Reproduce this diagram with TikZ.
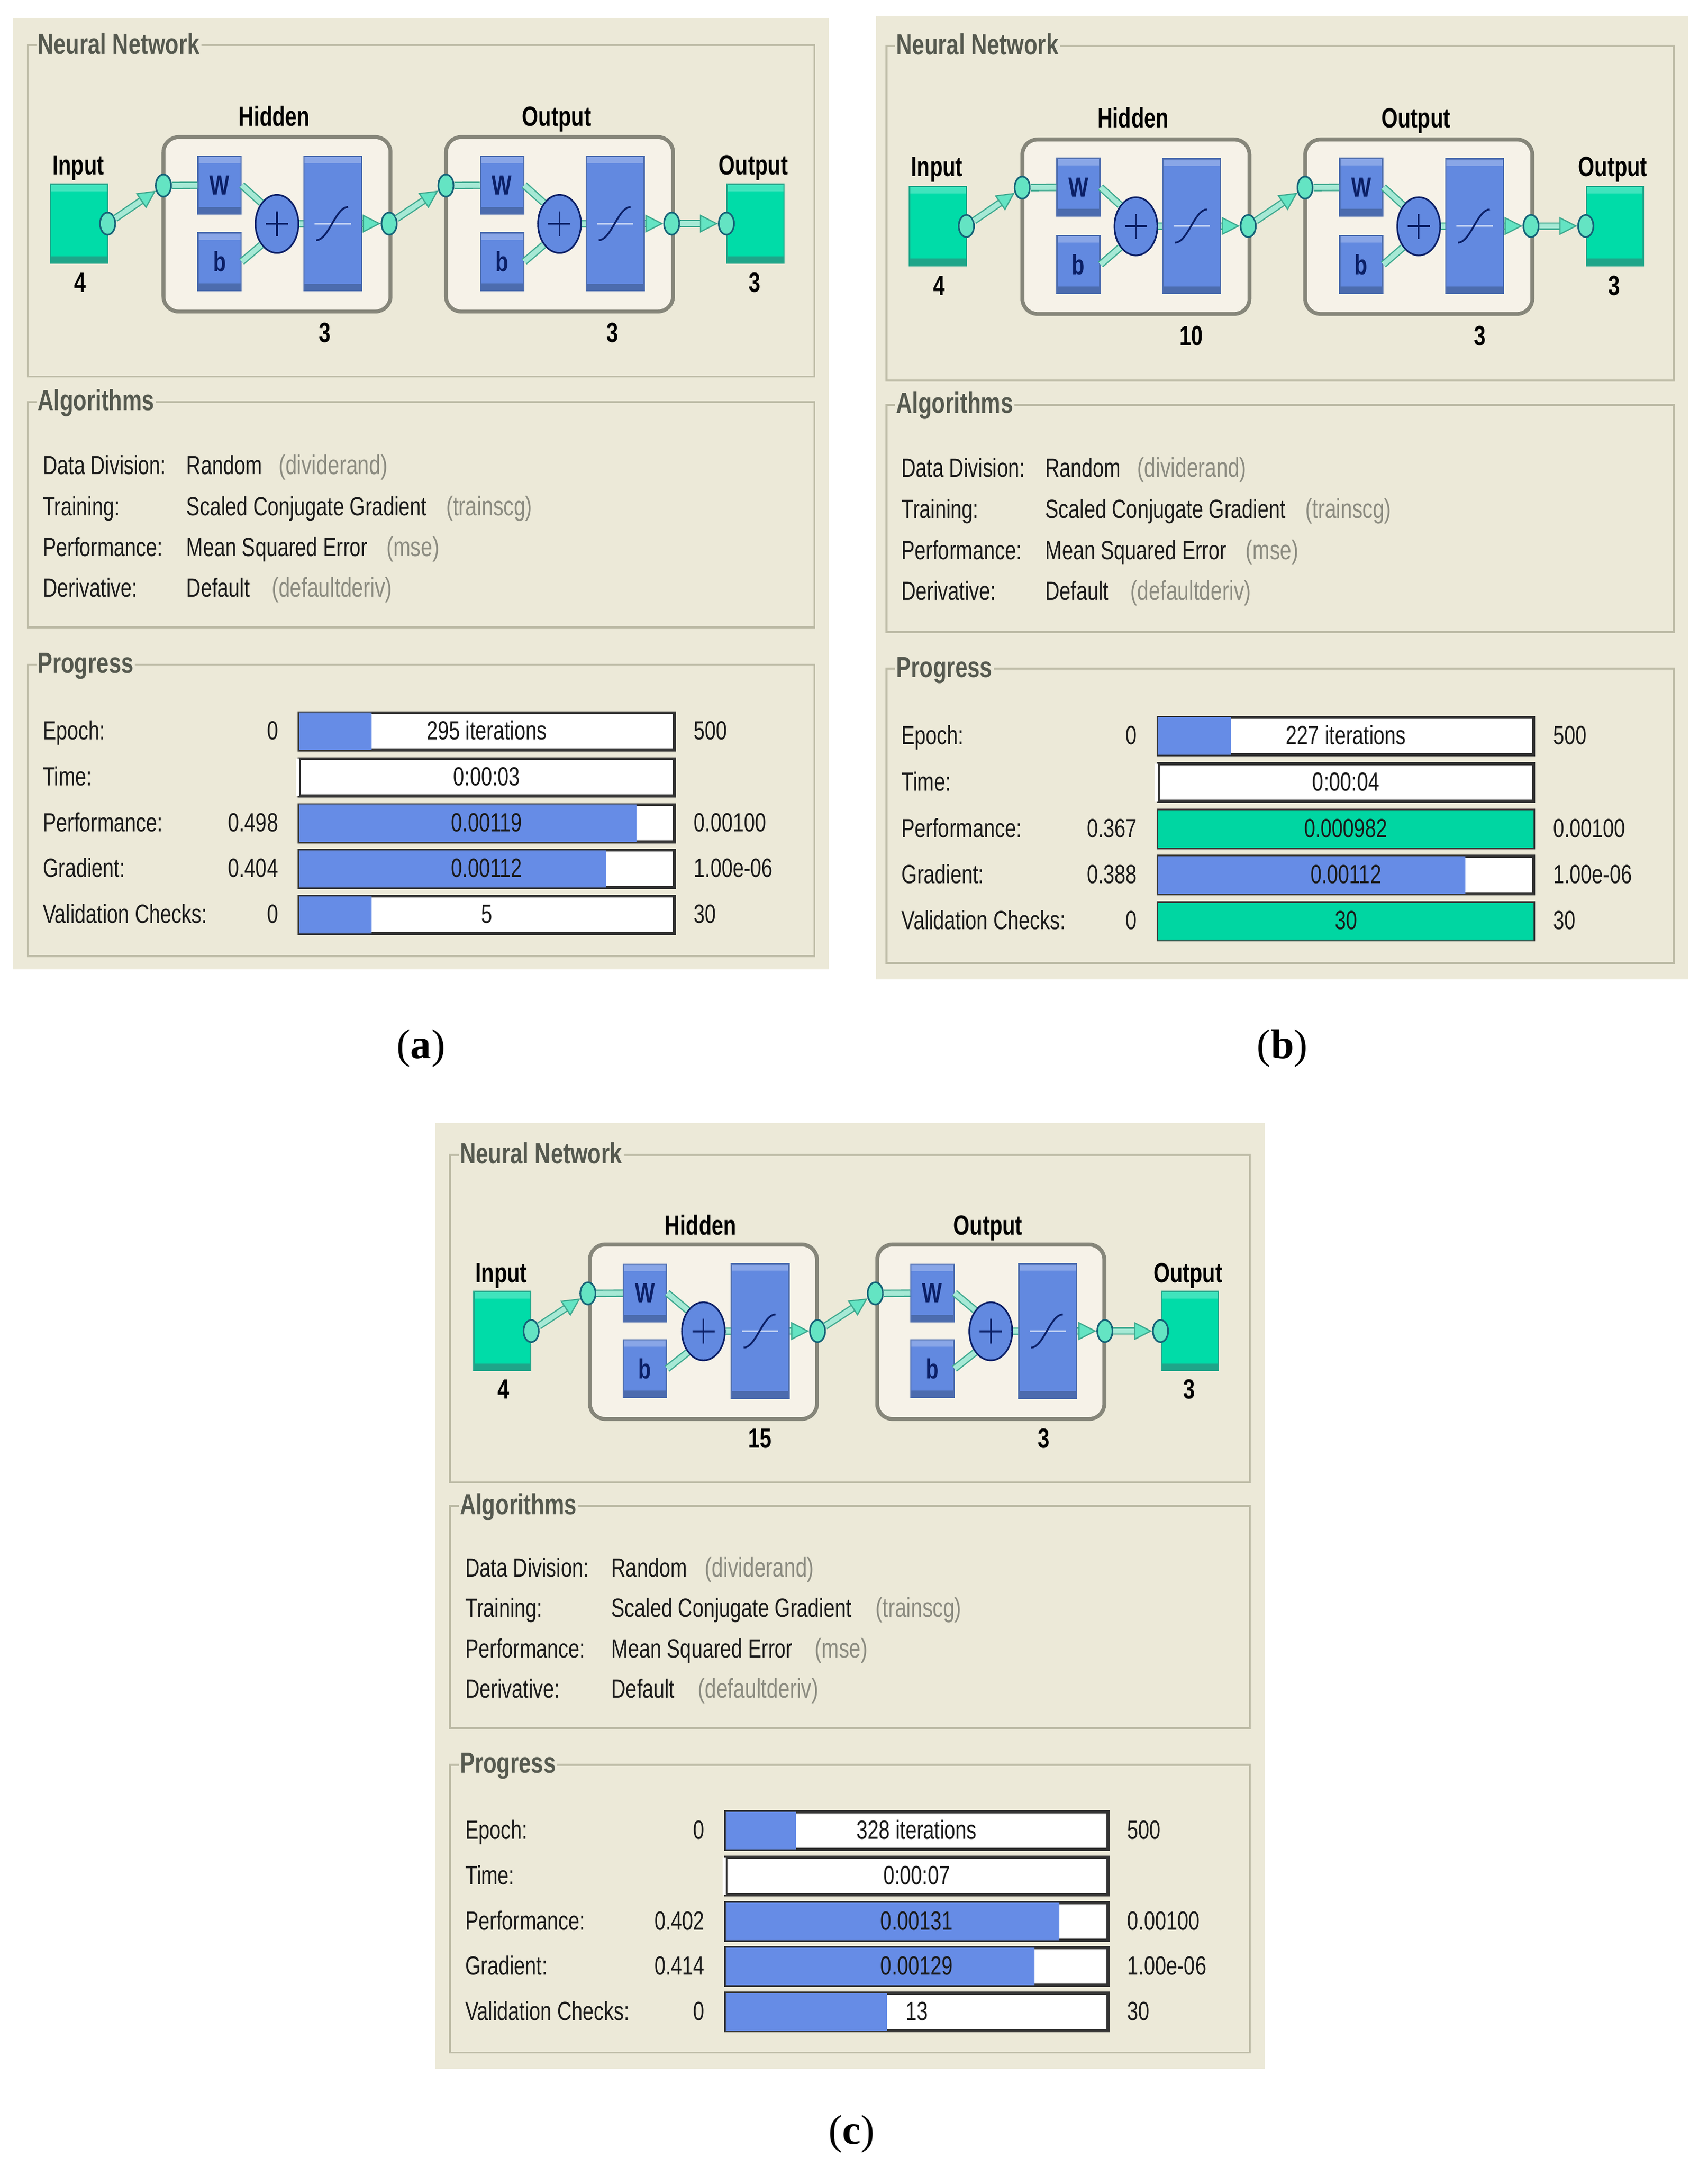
\documentclass[tikz,border=0pt]{standalone}
\usepackage{fontspec}
\setmainfont[FakeStretch=0.76]{Liberation Sans}
\newfontfamily\capfont{Liberation Serif}
\usetikzlibrary{calc,shapes.geometric,arrows.meta}

\definecolor{panelbg}{HTML}{ECE9D8}
\definecolor{framegray}{HTML}{BDBBA6}
\definecolor{titlegray}{HTML}{55594F}
\definecolor{notegray}{HTML}{8B8B80}
\definecolor{layerbg}{HTML}{F6F2E8}
\definecolor{layerline}{HTML}{86867A}
\definecolor{blockblue}{HTML}{6289E0}
\definecolor{blockdark}{HTML}{4C6CAE}
\definecolor{blockgreen}{HTML}{00DCA8}
\definecolor{greendark}{HTML}{1FA589}
\definecolor{wireline}{HTML}{3FA98F}
\definecolor{wirefill}{HTML}{A6E9D5}
\definecolor{navy}{HTML}{0B1F66}
\definecolor{barblue}{HTML}{668CE6}
\definecolor{bargreen}{HTML}{00D6A2}

\tikzset{
  nnframe/.style={draw=framegray,line width=1.4pt},
  nntitle/.style={anchor=west,fill=panelbg,inner sep=1pt,text=titlegray,font=\fontsize{21}{23}\selectfont\bfseries},
  nnhead/.style={inner sep=0pt,text height=14pt,text depth=0pt,font=\fontsize{20}{22}\selectfont\bfseries},
  nntext/.style={anchor=west,inner sep=0pt,yshift=-1pt,text height=14pt,text depth=4pt,text=black!90,font=\fontsize{19}{21}\selectfont},
  nnnote/.style={nntext,text=notegray,font=\fontsize{19.6}{21}\selectfont},
  nnlow/.style={nntext,anchor=east},
  nnmid/.style={nntext,anchor=center},
  nnblock/.style 2 args={rectangle,inner sep=0pt,fill=#1,draw=#2,line width=1pt,
    path picture={
      \fill[#2] (path picture bounding box.south west) rectangle ([yshift=5pt]path picture bounding box.south east);
      \fill[white,opacity=.25] (path picture bounding box.north west) rectangle ([yshift=-5pt]path picture bounding box.north east);
    }},
  nnio/.style={nnblock={blockgreen}{greendark},minimum width=41pt,minimum height=57pt},
  nnsmall/.style={nnblock={blockblue}{blockdark},minimum width=31pt,minimum height=41.5pt,text=navy,font=\fontsize{20}{22}\selectfont\bfseries},
  nntrans/.style={nnblock={blockblue}{blockdark},minimum width=41.5pt,minimum height=97pt},
  nnsum/.style={ellipse,inner sep=0pt,minimum width=31pt,minimum height=42pt,fill=blockblue,draw=navy,line width=1.2pt},
  nnjoin/.style={ellipse,inner sep=0pt,minimum width=11pt,minimum height=16pt,fill=wirefill!60!blockgreen,draw=navy!50!greendark,line width=1.2pt},
  nnlayer/.style={rectangle,rounded corners=11pt,inner sep=0pt,minimum width=164pt,minimum height=126pt,fill=layerbg,draw=layerline,line width=2.8pt},
  nnwire/.style={draw=wireline,line width=.9pt,double=wirefill,double distance=3.6pt},
  nntip/.style={-{Triangle[length=13pt,width=13pt,fill=wirefill!60!blockgreen]}},
  nncurve/.style={draw=navy,line width=1.3pt},
  nnbar/.style={rectangle,inner sep=0pt,minimum width=271pt,minimum height=27pt,fill=white,draw=black!80,line width=2.2pt},
  nncap/.style={inner sep=0pt,font=\capfont\fontsize{30}{32}\selectfont}
}

\newcommand{\nnmakelayer}[3]{%
  \begin{scope}[shift={(#2,0)}]
    \node[nnhead] (#1-head) at (198,84) {#3};
    \node[nnlayer] (#1-box) at (200,162) {};
    \node[nnsmall] (#1-w) at (158.5,133.7) {W};
    \node[nnsmall] (#1-b) at (158.5,189) {b};
    \node[nnsum] (#1-sum) at (200,161.7) {};
    \node[nntrans] (#1-trans) at (240.3,161.5) {};
    \node[nnjoin] (#1-in) at (118,134) {};
    \node[nnjoin] (#1-out) at (281,161.5) {};
    \draw[nnwire] (#1-in) -- (#1-w);
    \draw[nnwire] (#1-w.east) -- (#1-sum.north west);
    \draw[nnwire] (#1-b.east) -- (#1-sum.south west);
    \draw[nnwire] (#1-sum) -- (#1-trans);
    \draw[nnwire,nntip] (#1-trans) -- (#1-out);
    \draw[nncurve] ([xshift=-8pt]#1-sum.center) -- ([xshift=8pt]#1-sum.center);
    \draw[nncurve] ([yshift=-9pt]#1-sum.center) -- ([yshift=9pt]#1-sum.center);
    \draw[white!60!blockblue,line width=1.2pt] ([xshift=-13pt]#1-trans.center) -- ([xshift=13pt]#1-trans.center);
    \draw[nncurve] ([shift={(-12pt,-12pt)}]#1-trans.center) .. controls ([shift={(-3pt,-12pt)}]#1-trans.center) and ([shift={(2pt,12pt)}]#1-trans.center) .. ([shift={(11pt,12pt)}]#1-trans.center);
  \end{scope}
}

\newcommand{\nnnetwork}[4]{%
  \begin{scope}[yshift=#4]
    \draw[nnframe] (20,32.7) rectangle (588,272);
    \node[nntitle] (net-title) at (26,31.5) {Neural Network};
    \node[nnhead] (input-head) at (56.5,119) {Input};
    \node[nnio] (input) at (57.2,161.5) {};
    \node[nnhead] (input-size) at (58,204) {4};
    \node[nnjoin] (input-out) at (77.7,161.5) {};
    \nnmakelayer{hidden}{0}{Hidden}
    \nnmakelayer{last}{204}{Output}
    \node[nnhead] (hidden-num) at (#2,240) {#1};
    \node[nnhead] (last-num) at (#3,240) {3};
    \node[nnhead] (output-head) at (544,119) {Output};
    \node[nnio] (output) at (545.5,161.5) {};
    \node[nnhead] (output-size) at (545,204) {3};
    \node[nnjoin] (output-in) at (524.5,161.5) {};
    \draw[nnwire,nntip] (input-out) -- (hidden-in);
    \draw[nnwire,nntip] (hidden-out) -- (last-in);
    \draw[nnwire,nntip] (last-out) -- (output-in);
  \end{scope}
}

\newcommand{\nnalgo}[1]{%
  \begin{scope}[yshift=#1]
    \draw[nnframe] (20,290.3) -- (20,453) -- (588,453) -- (588,290.3) -- cycle;
    \node[nntitle] (alg-title) at (26,291) {Algorithms};
  \end{scope}
  \node[nntext] (div-name) at (30.8,336.7) {Data Division:};
  \node[nntext] (div-value) at (134.5,336.7) {Random};
  \node[nnnote] (div-note) at (201,336.7) {(dividerand)};
  \node[nntext] (train-name) at (30.8,366.2) {Training:};
  \node[nntext] (train-value) at (134.5,366.2) {Scaled Conjugate Gradient};
  \node[nnnote] (train-note) at (322,366.2) {(trainscg)};
  \node[nntext] (perf-name) at (30.8,395.7) {Performance:};
  \node[nntext] (perf-value) at (134.5,395.7) {Mean Squared Error};
  \node[nnnote] (perf-note) at (279,395.7) {(mse)};
  \node[nntext] (deriv-name) at (30.8,425) {Derivative:};
  \node[nntext] (deriv-value) at (134.5,425) {Default};
  \node[nnnote] (deriv-note) at (196,425) {(defaultderiv)};
}

\newcommand{\nnrow}[8]{%
  \node[nntext] (#1-name) at (30.8,#2) {#3};
  \node[nnlow] (#1-low) at (201,#2) {#4};
  \node[nnbar] (#1-bar) at (351.5,#2) {};
  \fill[#6] ([shift={(1.1pt,1.1pt)}]#1-bar.south west) rectangle ($(#1-bar.north west)!#5!(#1-bar.north east)+(-1.1pt,-1.1pt)$);
  \node[nnmid] (#1-text) at (#1-bar.center) {#7};
  \node[nntext] (#1-high) at (500.8,#2) {#8};
}

\begin{document}
\begin{tikzpicture}[x=1pt,y=-1pt]
  \useasboundingbox (0,0) rectangle (1233,1565);

  \begin{scope}[name prefix=a-]
    \fill[panelbg] (9.5,13) rectangle (598.6,700);
    \nnnetwork{3}{234.6}{442.4}{0pt}
    \nnalgo{0pt}
    \draw[nnframe] (20,480) rectangle (588,690.4);
    \node[nntitle] (prog-title) at (26,481) {Progress};
    \nnrow{epoch}{528.2}{Epoch:}{0}{.2}{barblue}{295 iterations}{500}
    \nnrow{time}{561.4}{Time:}{}{0}{white}{0:00:03}{}
    \nnrow{perf}{594.6}{Performance:}{0.498}{.9}{barblue}{0.00119}{0.00100}
    \nnrow{grad}{627.5}{Gradient:}{0.404}{.82}{barblue}{0.00112}{1.00e-06}
    \nnrow{check}{660.7}{Validation Checks:}{0}{.2}{barblue}{5}{30}
  \end{scope}

  \begin{scope}[name prefix=b-,shift={(620,-1.6)},x=1.001pt,y=-1.0095pt]
    \fill[panelbg] (12.4,13) rectangle (598.2,702.1);
    \nnnetwork{10}{240}{448}{-1.8pt}
    \nnalgo{-.9pt}
    \draw[nnframe] (20,480) rectangle (588,690.4);
    \node[nntitle] (prog-title) at (26,481) {Progress};
    \nnrow{epoch}{528.2}{Epoch:}{0}{.2}{barblue}{227 iterations}{500}
    \nnrow{time}{561.4}{Time:}{}{0}{white}{0:00:04}{}
    \nnrow{perf}{594.6}{Performance:}{0.367}{1}{bargreen}{0.000982}{0.00100}
    \nnrow{grad}{627.5}{Gradient:}{0.388}{.82}{barblue}{0.00112}{1.00e-06}
    \nnrow{check}{660.7}{Validation Checks:}{0}{1}{bargreen}{30}{30}
  \end{scope}

  \begin{scope}[name prefix=c-,shift={(304.5,800.2)},x=1.0171pt,y=-.988pt,nnbar/.append style={minimum width=276pt}]
    \fill[panelbg] (9.5,11.2) rectangle (598.6,702.1);
    \nnnetwork{15}{240}{441.7}{-1.5pt}
    \nnalgo{-.5pt}
    \draw[nnframe] (20,480) rectangle (588,690.4);
    \node[nntitle] (prog-title) at (26,481) {Progress};
    \nnrow{epoch}{528.2}{Epoch:}{0}{.19}{barblue}{328 iterations}{500}
    \nnrow{time}{561.4}{Time:}{}{0}{white}{0:00:07}{}
    \nnrow{perf}{594.6}{Performance:}{0.402}{.874}{barblue}{0.00131}{0.00100}
    \nnrow{grad}{627.5}{Gradient:}{0.414}{.81}{barblue}{0.00129}{1.00e-06}
    \nnrow{check}{660.7}{Validation Checks:}{0}{.426}{barblue}{13}{30}
  \end{scope}

  \node[nncap] (cap-a) at (304,757) {(\textbf{a})};
  \node[nncap] (cap-b) at (926,757) {(\textbf{b})};
  \node[nncap] (cap-c) at (615,1541) {(\textbf{c})};
\end{tikzpicture}
\end{document}
